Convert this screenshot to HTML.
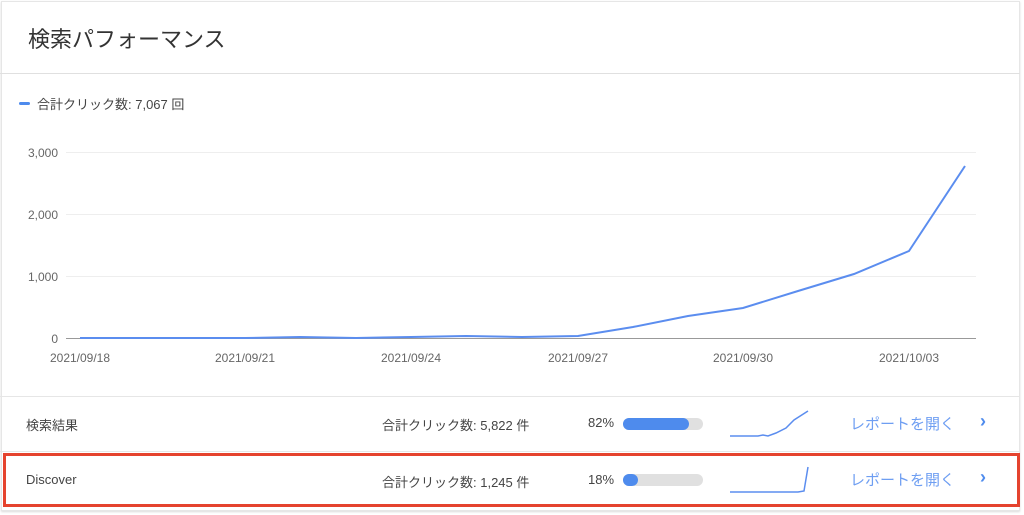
<!DOCTYPE html>
<html><head><meta charset="utf-8"><style>
body{margin:0;width:1024px;height:515px;background:#fff;font-family:"Liberation Sans","Noto Sans CJK JP",sans-serif;position:relative;overflow:hidden;color:#333}
.card{position:absolute;left:1px;top:1px;width:1017px;height:508px;border:1px solid #e6e6e6;box-shadow:0 1px 2px rgba(0,0,0,.15)}
.t{position:absolute;font-size:13px;color:#444}
.bar{position:absolute;width:80px;height:12px;border-radius:6px;background:#e0e0e0}
.bar i{display:block;height:12px;border-radius:6px;background:#4e8bed}
.lnk{position:absolute;color:#6e9ef2;font-size:15px}
.chev{position:absolute;color:#4e8bed;font-size:18px;font-weight:bold}
</style></head><body>
<div class="card"></div>
<div class="t" style="left:28px;top:22px;font-size:22px;color:#333">検索パフォーマンス</div>
<div style="position:absolute;left:0;top:73px;width:1020px;height:1px;background:#e0e0e0"></div>
<div style="position:absolute;left:19px;top:102px;width:11px;height:3px;border-radius:2px;background:#4e8bed"></div>
<div class="t" style="left:37px;top:94px;font-size:13px">合計クリック数: 7,067 回</div>
<svg style="position:absolute;left:0;top:0" width="1024" height="400">
<g stroke="#eee" stroke-width="1"><line x1="66" x2="976" y1="152.5" y2="152.5"/><line x1="66" x2="976" y1="214.5" y2="214.5"/><line x1="66" x2="976" y1="276.5" y2="276.5"/></g>
<line x1="66" x2="976" y1="338.5" y2="338.5" stroke="#999"/>
<g font-size="12" fill="#666" text-anchor="end" font-family="Liberation Sans,sans-serif"><text x="58" y="157">3,000</text><text x="58" y="219">2,000</text><text x="58" y="281">1,000</text><text x="58" y="343">0</text></g>
<g font-size="12" fill="#666" text-anchor="middle" font-family="Liberation Sans,sans-serif"><text x="80" y="362">2021/09/18</text><text x="245" y="362">2021/09/21</text><text x="411" y="362">2021/09/24</text><text x="578" y="362">2021/09/27</text><text x="743" y="362">2021/09/30</text><text x="909" y="362">2021/10/03</text></g>
<polyline fill="none" stroke="#5b8def" stroke-width="2" points="80,338 135,338 190,338 245,338 300,337 356,338 411,337 466,336 522,337 578,336 633,327 688,316 743,308 798,291 854,274 909,251 965,166"/>
</svg>
<div style="position:absolute;left:0;top:396px;width:1020px;height:1px;background:#e6e6e6"></div>
<div style="position:absolute;left:0;top:451px;width:1020px;height:1px;background:#e6e6e6"></div>
<div class="t" style="left:26px;top:415px">検索結果</div>
<div class="t" style="left:382px;top:415px">合計クリック数: 5,822 件</div>
<div class="t" style="left:588px;top:415px">82%</div>
<div class="bar" style="left:623px;top:418px"><i style="width:66px"></i></div>
<svg style="position:absolute;left:728px;top:408px" width="85" height="32"><polyline fill="none" stroke="#5b8def" stroke-width="1.5" points="2,28 30,28 35,27 40,28 48,25 58,20 66,12 80,3"/></svg>
<div class="lnk" style="left:850px;top:413px">レポートを開く</div>
<div class="chev" style="left:980px;top:411px">›</div>
<div style="position:absolute;left:3px;top:453px;width:1011px;height:48px;border:3px solid #e5432e"></div>
<div class="t" style="left:26px;top:472px">Discover</div>
<div class="t" style="left:382px;top:472px">合計クリック数: 1,245 件</div>
<div class="t" style="left:588px;top:472px">18%</div>
<div class="bar" style="left:623px;top:474px"><i style="width:15px"></i></div>
<svg style="position:absolute;left:728px;top:464px" width="85" height="32"><polyline fill="none" stroke="#5b8def" stroke-width="1.5" points="2,28 70,28 76,27 80,3"/></svg>
<div class="lnk" style="left:850px;top:469px">レポートを開く</div>
<div class="chev" style="left:980px;top:467px">›</div>
</body></html>
